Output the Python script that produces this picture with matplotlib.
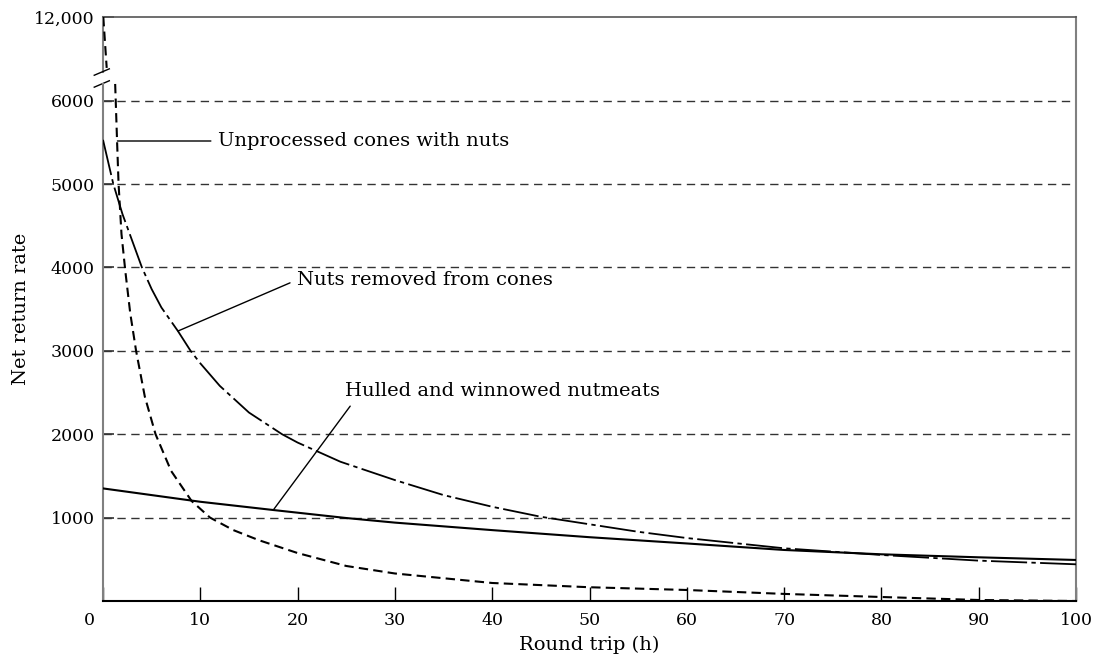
import numpy as np
import matplotlib
matplotlib.use("Agg")
import matplotlib.pyplot as plt
import matplotlib.transforms as mtrans

plt.rcParams['font.family'] = ['DejaVu Serif']
plt.rcParams['font.size'] = 14

# values
unproc_top_x = [0.03, 0.38]
unproc_top_y = [12000, 8300]
unproc_x = [1.25, 1.45, 1.6, 1.9, 2.3, 2.8, 3.4, 4.3, 5.4, 7.0, 9.1, 11.0, 13.4, 16,
            20, 25, 30, 40, 50, 60, 70, 80, 90, 100]
unproc_y = [6200, 5500, 5000, 4400, 3950, 3450, 3000, 2450, 2000, 1560, 1200, 1000, 850, 730,
            575, 420, 330, 216, 165, 132, 85, 48, 12, 0]

removed_x = [0, 1.06, 2, 3, 4, 5, 6, 7.7, 9, 10, 12, 15, 18.4, 20, 24.4, 30, 35, 40, 45,
             50, 55, 60, 70, 80, 90, 100]
removed_y = [5530, 5000, 4640, 4320, 4000, 3740, 3520, 3237, 3000, 2850, 2580, 2260, 2000,
             1900, 1670, 1450, 1270, 1130, 1010, 920, 830, 755, 632, 552, 484, 440]

hulled_x = [0, 10, 17.5, 25, 30, 40, 50, 60, 70, 80, 90, 100]
hulled_y = [1350, 1190, 1091, 995, 940, 850, 765, 690, 612, 560, 524, 492]

x_ticks = list(range(0, 101, 10))
y_ticks = [1000, 2000, 3000, 4000, 5000, 6000, 12000]
y_ticklabels = ['1000', '2000', '3000', '4000', '5000', '6000', '12,000']

# broken y axis: linear up to 6200, gap, compressed 8000..12000
LOW, HIGH = 6200, 8000
GAP = 0.0794
TOP = 0.165


def fwd(v):
    v = np.asarray(v, dtype=float)
    return np.where(v <= LOW, v,
                    np.where(v < HIGH, LOW + (v - LOW) * GAP,
                             LOW + (HIGH - LOW) * GAP + (v - HIGH) * TOP))


def inv(c):
    c = np.asarray(c, dtype=float)
    c_high = LOW + (HIGH - LOW) * GAP
    return np.where(c <= LOW, c,
                    np.where(c < c_high, LOW + (c - LOW) / GAP,
                             HIGH + (c - c_high) / TOP))


fig = plt.figure(figsize=(10.98, 6.64), dpi=100)
ax = fig.add_axes([103 / 1098, 63 / 664, 973 / 1098, 584 / 664])
ax.set_yscale('function', functions=(fwd, inv))
ax.set_xlim(0, 100)
ax.set_ylim(0, 12000)

grid_kw = dict(color='#333333', lw=1.0, linestyle=(0, (6, 4)))
for v in y_ticks[:-1]:
    ax.axhline(v, zorder=1, **grid_kw)

ax.plot(unproc_top_x, unproc_top_y, color='black', lw=1.5, linestyle=(0, (4.5, 2.5)), zorder=3)
ax.plot(unproc_x, unproc_y, color='black', lw=1.5, linestyle=(0, (4.5, 2.5)), zorder=3)
ax.plot(removed_x, removed_y, color='black', lw=1.3, linestyle=(0, (20, 2.4, 2.4, 2.4)), zorder=3)
ax.plot(hulled_x, hulled_y, color='black', lw=1.5, zorder=3)

ax.set_xticks(x_ticks)
ax.set_yticks(y_ticks)
ax.set_yticklabels(y_ticklabels)
ax.tick_params(axis='x', direction='in', length=10, width=1, pad=8, labelsize=12.5)
ax.tick_params(axis='y', direction='in', length=8, width=1.2, pad=6, color='#333333',
               labelsize=12.5)
ax.yaxis.set_minor_locator(plt.NullLocator())

lbl0 = ax.get_xticklabels()[0]
lbl0.set_transform(lbl0.get_transform() + mtrans.ScaledTranslation(-0.14, 0, fig.dpi_scale_trans))

for side in ['left', 'right']:
    ax.spines[side].set_color('#808080')
    ax.spines[side].set_linewidth(1.5)
ax.spines['top'].set_color('#555555')
ax.spines['top'].set_linewidth(1.2)
ax.spines['bottom'].set_linewidth(1.5)

# left spine with a break
ax.spines['left'].set_bounds(0, LOW)
y_lo = float(fwd(LOW) / fwd(12000))
y_hi = float(fwd(HIGH) / fwd(12000))
ax.axvline(0, ymin=y_hi, ymax=1, color='#808080', lw=1.5, clip_on=False)
for yb in (y_lo, y_hi):
    ax.plot([-0.009, 0.0065], [yb - 0.0055, yb + 0.0055], transform=ax.transAxes,
            color='black', lw=1.0, clip_on=False)

ax.set_xlabel('Round trip (h)', labelpad=5)
ax.set_ylabel('Net return rate', labelpad=3)

line_kw = dict(arrowstyle='-', color='black', lw=1.0, shrinkA=3, shrinkB=0)
ax.annotate('Unprocessed cones with nuts', xy=(1.48, 5516), xytext=(11.8, 5516),
            ha='left', va='center', arrowprops=dict(relpos=(0, 0.5), **line_kw))
ax.annotate('Nuts removed from cones', xy=(7.7, 3237), xytext=(19.9, 3849),
            ha='left', va='center', arrowprops=dict(relpos=(0, 0.5), **line_kw))
ax.annotate('Hulled and winnowed nutmeats', xy=(17.5, 1091), xytext=(24.9, 2518),
            ha='left', va='center', arrowprops=dict(relpos=(0.03, 0.0), **line_kw))

fig.savefig('out.png', dpi=100)
